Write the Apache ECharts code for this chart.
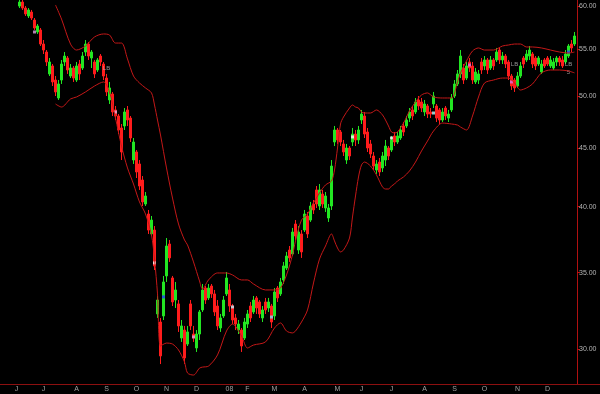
<!DOCTYPE html>
<html><head><meta charset="utf-8">
<script src="https://cdn.jsdelivr.net/npm/echarts@6/dist/echarts.min.js"></script>
<style>html,body{margin:0;padding:0;background:#000}#c{width:600px;height:394px}</style>
</head><body><div id="c"></div>
<script>
const N = 200;
const monthLabels = ['J','J','A','S','O','N','D','08','F','M','A','M','J','J','A','S','O','N','D'];
const monthIdx = [5,14,25,35,45,55,65,76,82,91,101,112,120,130,141,151,161,172,182];
const priceTicks = [30,35,40,45,50,55,60];
const opens = [null,null,null,null,null,null,
59.99,60.48,59.75,58.80,59.27,58.32,56.93,57.16,55.56,54.67,
52.30,53.15,51.66,49.82,51.66,53.58,54.01,52.08,52.93,51.66,
53.36,52.93,54.67,55.56,54.01,53.58,52.72,54.23,53.36,51.87,
49.62,50.22,48.63,48.04,46.89,47.08,48.63,47.84,43.95,44.67,
43.60,42.21,40.21,39.41,37.85,38.15,32.20,31.68,32.07,34.77,
37.09,34.63,33.12,32.86,30.67,31.17,30.30,32.86,30.92,30.06,
30.92,32.46,33.93,33.26,34.07,33.53,32.72,31.30,32.07,33.53,
33.80,32.72,31.94,31.17,31.17,30.67,31.55,32.72,32.33,33.26,
32.99,31.94,32.99,32.59,32.72,32.07,33.93,33.53,34.49,35.33,
36.64,36.35,38.62,36.64,37.85,38.15,39.25,38.93,40.21,41.37,
40.05,41.03,39.89,39.09,40.05,45.58,46.70,46.51,45.40,43.95,
45.03,45.58,46.32,45.77,47.65,48.04,46.51,45.40,44.31,43.07,
43.77,43.25,43.95,45.03,44.85,46.14,45.58,45.95,47.08,47.08,
47.84,48.63,48.43,49.62,49.42,48.43,49.02,48.43,49.22,49.02,
48.63,47.65,48.82,47.84,48.63,50.02,51.25,52.30,52.93,51.87,
53.58,53.15,51.46,51.66,53.58,53.15,53.80,52.93,53.80,53.80,
54.89,53.80,54.23,53.58,52.08,51.66,51.04,52.08,54.01,53.80,
54.23,54.45,54.01,53.36,52.51,53.80,54.01,53.15,52.93,53.58,
54.01,53.80,53.58,54.23,55.56,55.56];
const closes = [null,null,null,null,null,null,
60.48,59.75,59.04,59.52,58.56,57.39,57.62,55.56,54.89,53.58,
53.58,51.46,50.43,51.25,53.36,54.23,52.72,52.93,51.87,53.15,
52.30,54.23,55.56,54.23,54.67,52.30,53.80,53.58,52.08,50.43,
50.84,48.43,48.04,46.70,44.67,48.43,47.65,45.95,45.58,42.90,
41.70,40.38,40.87,38.15,38.93,35.48,33.12,29.58,34.35,36.94,
36.06,32.99,33.80,31.43,31.43,29.46,31.05,31.43,30.67,30.92,
32.33,33.80,33.12,33.93,33.53,32.33,31.43,31.94,33.12,34.63,
32.72,31.81,31.55,31.55,30.18,31.68,32.20,31.94,33.12,32.59,
32.20,32.46,32.46,32.99,31.68,33.66,33.26,34.35,35.48,36.20,
36.06,38.00,37.69,38.00,36.50,39.41,37.85,40.05,39.73,40.21,
41.37,40.21,40.87,39.89,43.42,46.70,45.77,45.58,44.67,45.03,
44.31,46.32,45.77,46.70,48.23,46.32,45.03,44.49,43.42,43.60,
42.90,44.31,45.21,44.31,45.77,45.58,46.14,46.70,46.51,47.65,
48.43,48.04,49.42,49.02,48.82,49.22,48.23,48.23,50.02,47.84,
47.65,48.43,48.04,48.23,49.82,51.25,52.30,54.23,51.66,53.15,
52.93,51.66,52.51,52.30,52.72,53.80,52.72,53.80,53.15,54.67,
53.80,54.23,53.36,52.08,51.04,50.84,52.08,53.15,53.36,54.45,
54.89,53.36,53.15,54.01,53.36,53.15,53.36,53.80,53.58,54.01,
53.58,53.15,54.45,55.34,55.12,56.47];
const lows = [null,null,null,null,null,null,
59.75,59.52,58.80,58.56,58.32,57.16,56.70,55.34,54.45,53.15,
52.08,51.04,50.02,49.62,51.25,53.15,52.30,51.87,51.46,51.46,
51.66,52.72,54.23,53.80,52.93,51.87,52.51,53.15,51.66,50.02,
49.22,48.04,47.65,46.32,43.95,46.70,47.08,45.58,43.60,42.38,
41.37,40.05,40.05,37.85,37.69,35.19,31.94,29.10,31.81,34.35,
35.77,32.72,32.59,31.05,30.43,29.10,30.18,31.17,30.43,29.82,
30.55,32.33,32.86,33.12,33.26,32.07,31.17,31.05,31.94,33.39,
32.33,31.55,31.17,30.92,29.82,30.55,31.30,31.68,32.20,32.20,
31.94,31.68,32.20,32.33,31.30,31.81,32.99,33.39,34.21,35.19,
35.77,36.20,37.39,36.35,36.06,38.00,37.54,38.78,39.41,39.89,
39.73,39.89,39.57,38.78,39.73,45.21,45.40,45.21,44.31,43.60,
43.95,45.21,45.21,45.40,47.27,45.95,44.67,44.13,43.07,42.73,
42.55,42.90,43.42,43.95,44.67,45.21,45.40,45.77,46.14,46.89,
47.46,47.65,48.23,48.63,48.43,48.04,47.84,47.84,48.82,47.46,
47.27,47.46,47.65,47.46,48.43,49.82,51.04,51.87,51.25,51.66,
52.51,51.25,51.25,51.25,52.30,52.72,52.30,52.72,52.72,53.58,
53.36,53.36,52.93,51.66,50.63,50.43,50.84,51.87,52.93,53.58,
53.80,52.93,52.72,53.15,52.30,52.93,53.15,52.93,52.72,53.15,
53.15,52.93,53.36,54.01,54.67,55.34];
const highs = [null,null,null,null,null,null,
61.22,60.73,59.99,59.75,59.52,58.56,57.85,57.39,56.01,54.89,
54.01,53.36,52.08,51.66,53.80,54.67,54.23,53.36,53.15,53.58,
53.80,54.67,56.01,55.79,54.89,53.80,54.01,54.45,53.58,52.30,
51.46,50.43,49.02,48.23,47.27,48.82,49.02,48.04,45.95,44.85,
43.95,42.55,41.20,39.73,39.25,38.46,33.39,31.94,34.77,37.54,
37.39,34.77,34.35,33.12,31.81,31.43,31.43,33.12,31.43,31.17,
32.46,34.21,34.07,34.21,34.21,33.80,33.12,32.20,33.39,35.05,
34.21,32.86,32.20,31.81,31.30,31.94,32.46,32.99,33.39,33.39,
33.12,32.72,33.26,33.26,32.86,33.93,34.07,34.63,35.77,36.50,
36.94,38.31,38.93,38.46,38.15,39.73,39.57,40.38,40.54,41.70,
41.87,41.37,41.20,40.21,43.95,47.08,46.89,46.70,45.77,45.40,
45.21,46.89,46.70,47.08,48.63,48.43,46.89,45.77,44.67,43.95,
44.13,44.67,45.77,45.21,46.14,46.51,46.51,47.08,47.46,48.04,
48.82,49.02,49.82,50.02,49.82,49.62,49.22,48.82,50.43,49.22,
48.82,48.82,49.02,48.63,50.22,51.66,52.72,54.89,53.36,53.58,
54.01,53.58,52.93,52.72,54.01,54.23,54.01,54.23,54.01,55.12,
55.12,54.67,54.45,53.80,52.30,51.87,52.51,53.58,54.23,54.89,
55.34,54.67,54.23,54.23,53.80,54.01,54.23,54.23,54.01,54.23,
54.23,54.23,54.89,55.56,56.01,56.93];
const bandIdx = [18,20,23,25,28,31,34,36,38,40,42,44,46,48,50,51,52,53,55,57,
59,61,62,64,66,67,69,72,75,77,80,82,84,88,91,93,95,97,98,100,
102,104,106,108,110,111,112,113,114,116,117,118,119,120,121,123,125,127,128,129,
130,131,132,134,136,138,140,142,144,147,150,152,153,155,157,159,161,164,167,169,
171,173,175,177,180,183,186,189,191];
const upperBand = [60.12,58.44,55.56,54.89,55.34,56.36,56.70,56.58,55.67,55.67,
53.91,52.08,51.35,50.84,50.33,49.12,47.65,46.23,43.25,40.70,
38.62,37.39,37.02,35.77,34.42,33.86,34.49,34.98,34.98,34.84,
34.49,34.49,34.21,33.80,33.80,33.93,34.84,36.28,37.32,38.93,
39.41,40.30,41.12,41.79,42.13,43.07,45.03,47.27,47.94,48.82,
49.12,48.92,48.82,48.43,48.33,48.33,48.63,48.14,47.65,47.08,
46.51,46.42,46.51,47.36,48.53,49.42,50.12,50.33,49.92,49.82,
49.82,51.46,52.41,53.69,54.78,55.12,54.89,54.89,55.34,55.45,
55.56,55.56,55.23,55.23,55.12,54.89,54.67,54.56,54.67];
const lowerBand = [49.22,48.92,49.72,49.92,50.43,51.04,51.46,50.43,47.84,45.21,
43.25,41.87,40.38,39.41,37.77,35.98,33.53,30.18,30.36,30.30,
29.94,29.22,28.58,28.46,28.86,28.92,28.98,29.64,31.11,31.55,
30.80,30.06,30.24,30.43,31.30,31.62,31.11,30.99,31.11,31.68,
32.46,34.28,35.98,36.94,37.85,37.32,36.79,36.50,36.64,37.54,
39.17,40.87,42.47,43.51,43.77,43.42,42.64,41.62,41.45,41.45,
41.70,41.87,42.13,42.47,42.99,43.77,44.76,45.67,46.60,47.36,
47.27,47.17,46.98,46.70,48.04,49.92,51.35,51.66,51.87,51.87,
51.35,50.63,50.84,51.25,52.41,52.72,52.72,52.61,52.41];
// small signal markers drawn on some candles
const markerIdx = [11,38,51,54,64,77,90,117,130,144,156,170,189];
const markerPrice = [56.93,48.43,35.70,33.33,30.74,32.66,32.00,46.05,45.95,48.33,53.25,51.46,54.67];
const markerColor = ['#e0a0e0','#e0b0e0','#ffffff','#2040ff','#e0a0e0','#c0f0ff','#80e0ff','#ffffff','#ffffff','#c0ffff','#e070e0','#e070e0','#2040ff'];
// small gray annotation texts
const noteIdx = [35,171,189,189];
const notePrice = [52.93,53.36,53.36,52.51];
const noteText = ['LB','LB','LB','5'];
const yMinPrice = 27.95, yMaxPrice = 60.73;

const L = Math.log;
const categories = [];
const labelAt = [];
for (let i = 0; i < N; i++) {
  categories.push('d' + i);
  const k = monthIdx.indexOf(i);
  labelAt.push(k >= 0 ? monthLabels[k] : '');
}
const candleData = categories.map((_, i) => opens[i] == null ? '-' :
  [L(opens[i]), L(closes[i]), L(lows[i]), L(highs[i])]);
const upperData = bandIdx.map((k, j) => [k, L(upperBand[j])]);
const lowerData = bandIdx.map((k, j) => [k, L(lowerBand[j])]);
const markerData = markerIdx.map((k, j) => ({ value: [k, L(markerPrice[j])], itemStyle: { color: markerColor[j] } }));
const noteData = noteIdx.map((k, j) => ({ value: [k, L(notePrice[j])], name: noteText[j] }));
const tickVals = priceTicks.map(L);

const chart = echarts.init(document.getElementById('c'));
chart.setOption({
  backgroundColor: '#000000',
  animation: false,
  grid: { left: 0, right: 0, top: 0, bottom: 10, containLabel: false, outerBoundsMode: 'none' },
  xAxis: {
    type: 'category', data: categories, boundaryGap: true,
    axisLine: { lineStyle: { color: '#8c1010', width: 1 } },
    axisTick: { show: false },
    axisLabel: { interval: 0, color: '#a0a0a0', fontSize: 7, margin: 2,
      fontFamily: 'Liberation Sans', formatter: (v, i) => labelAt[i] },
    splitLine: { show: false }
  },
  yAxis: {
    type: 'value', position: 'right', offset: -23, min: L(yMinPrice), max: L(yMaxPrice),
    axisLine: { show: true, lineStyle: { color: '#b01010', width: 1 } },
    axisTick: { show: true, length: 3, customValues: tickVals, lineStyle: { color: '#c01010' } },
    axisLabel: { customValues: tickVals, color: '#b4b4b4', fontSize: 7, margin: 2,
      fontFamily: 'Liberation Sans', formatter: v => Math.exp(v).toFixed(2) },
    splitLine: { show: false }
  },
  series: [
    { type: 'candlestick', data: candleData, barWidth: 2, clip: true,
      itemStyle: { color: '#22e622', color0: '#ff1c1c', borderColor: '#22e622', borderColor0: '#ff1c1c', borderWidth: 1 } },
    { type: 'line', data: upperData, symbol: 'none', smooth: 0.3, clip: true,
      lineStyle: { color: '#c41818', width: 1 } },
    { type: 'line', data: lowerData, symbol: 'none', smooth: 0.3, clip: true,
      lineStyle: { color: '#c41818', width: 1 } },
    { type: 'scatter', data: markerData, symbol: 'rect', symbolSize: 3, clip: true },
    { type: 'scatter', data: noteData, symbolSize: 0, clip: true,
      label: { show: true, position: 'inside', formatter: p => p.name, color: '#b8b8b8', fontSize: 6,
        fontFamily: 'Liberation Sans' } }
  ]
});
</script></body></html>
